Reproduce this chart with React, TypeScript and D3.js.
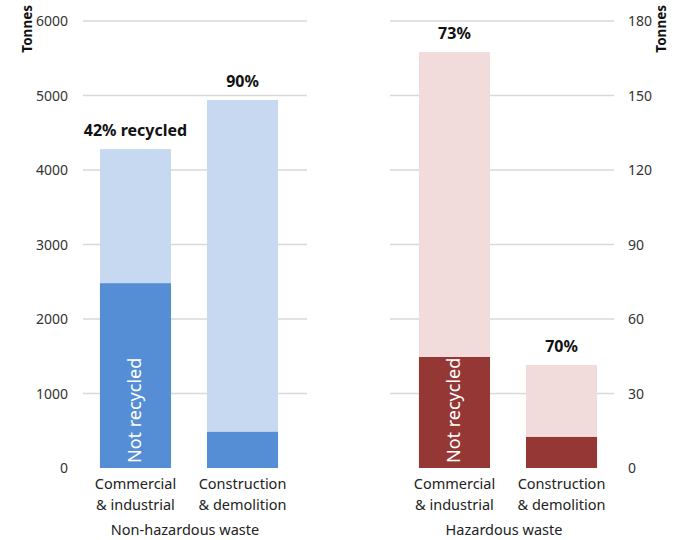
import React from "react";
import * as d3 from "d3";

const categories = ["Commercial\n& industrial", "Construction\n& demolition"];
const nonHazTotal = [4280, 4940];
const nonHazNotRecycled = [2480, 485];
const nonHazPct = ["42% recycled", "90%"];
const hazTotal = [167.5, 41.5];
const hazNotRecycled = [44.7, 12.5];
const hazPct = ["73%", "70%"];
const leftTicks = [0, 1000, 2000, 3000, 4000, 5000, 6000];
const rightTicks = [0, 30, 60, 90, 120, 150, 180];
const groupNames = ["Non-hazardous waste", "Hazardous waste"];

const FONT = "'Noto Sans', sans-serif";

export default function App() {
  const W = 677, H = 540;
  const y0 = 468, y1 = 21;
  const yL = d3.scaleLinear().domain([0, 6000]).range([y0, y1]);
  const yR = d3.scaleLinear().domain([0, 180]).range([y0, y1]);

  const panels = [
    { x0: 83, x1: 307, b0: 93, b1: 285, y: yL, total: nonHazTotal, nr: nonHazNotRecycled, pct: nonHazPct, dark: "#558ed5", light: "#c6d9f1", name: groupNames[0] },
    { x0: 390, x1: 614, b0: 412, b1: 604, y: yR, total: hazTotal, nr: hazNotRecycled, pct: hazPct, dark: "#953735", light: "#f2dcdb", name: groupNames[1] },
  ];

  return (
    <svg width={W} height={H} style={{ position: "absolute", left: 0, top: 0, fontFamily: FONT }}>
      {panels.map((p, pi) => {
        const xb = d3.scaleBand().domain(categories).range([p.b0, p.b1]).paddingInner(0.336).paddingOuter(0.065);
        const ticks = pi === 0 ? leftTicks : rightTicks;
        return (
          <g key={pi}>
            {ticks.filter((t) => t !== 0).map((t) => (
              <line key={t} x1={p.x0} x2={p.x1} y1={p.y(t)} y2={p.y(t)} stroke="#d9d9d9" strokeWidth={1.5} />
            ))}
            {categories.map((c, i) => {
              const x = xb(c)!;
              const bw = xb.bandwidth();
              const cx = x + bw / 2;
              return (
                <g key={c}>
                  <rect x={x} y={p.y(p.total[i])} width={bw} height={p.y(0) - p.y(p.total[i])} fill={p.light} />
                  <rect x={x} y={p.y(p.nr[i])} width={bw} height={p.y(0) - p.y(p.nr[i])} fill={p.dark} />
                  <text x={cx} y={p.y(p.total[i]) - 13} textAnchor="middle" fontSize={16} fontWeight="bold" fill="#111">
                    {p.pct[i]}
                  </text>
                  {c.split("\n").map((line, li) => (
                    <text key={li} x={cx} y={489 + li * 21} textAnchor="middle" fontSize={14.5} fill="#222">
                      {line}
                    </text>
                  ))}
                  {i === 0 && (
                    <text transform={`translate(${cx + 6},${y0 - 5}) rotate(-90)`} fontSize={18} fill="#fff">
                      Not recycled
                    </text>
                  )}
                </g>
              );
            })}
            <text x={(p.b0 + p.b1) / 2 - 4} y={535} textAnchor="middle" fontSize={14.5} fill="#222">{p.name}</text>
          </g>
        );
      })}
      {leftTicks.map((t) => (
        <text key={t} x={68} y={yL(t) + 5} textAnchor="end" fontSize={14} fill="#333">{t}</text>
      ))}
      {rightTicks.map((t) => (
        <text key={t} x={628} y={yR(t) + 5} textAnchor="start" fontSize={14} fill="#333">{t}</text>
      ))}
      <text transform="translate(32,5) rotate(-90)" textAnchor="end" fontSize={13.5} fontWeight="bold" fill="#111">Tonnes</text>
      <text transform="translate(666,5) rotate(-90)" textAnchor="end" fontSize={13.5} fontWeight="bold" fill="#111">Tonnes</text>
    </svg>
  );
}
